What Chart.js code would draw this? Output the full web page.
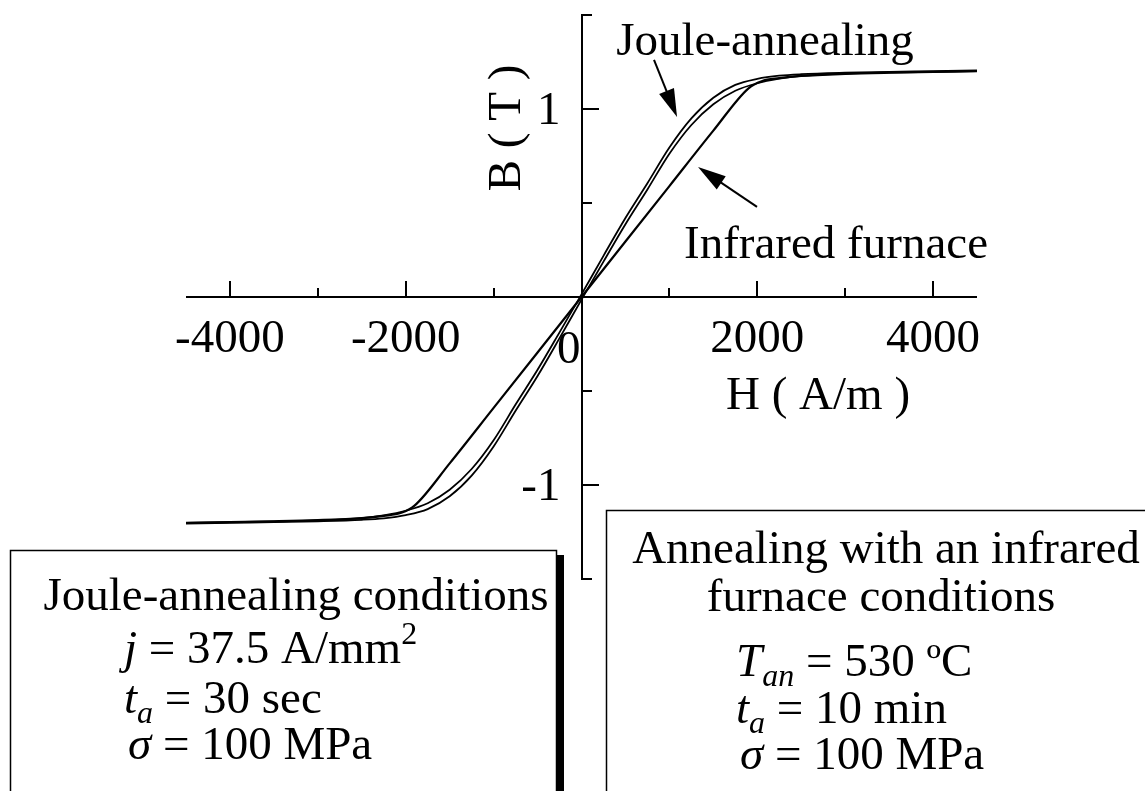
<!DOCTYPE html>
<html>
<head>
<meta charset="utf-8">
<script src="https://cdn.jsdelivr.net/npm/chart.js@4.4.1/dist/chart.umd.min.js"></script>
<style>
  html, body { margin: 0; padding: 0; background: #fff; }
  #wrap { width: 1145px; height: 791px; }
</style>
</head>
<body>
<div id="wrap"><canvas id="bh" width="1145" height="791"></canvas></div>
<script>
// H sweep (A/m) and flux density B (T) for the Joule-annealed sample, both loop branches
const hJoule = [-4500, -4000, -3500, -3000, -2500, -2250, -2000, -1750, -1500, -1250, -1000, -750, -500, -250, 0,
                250, 500, 750, 1000, 1250, 1500, 1750, 2000, 2250, 2500, 3000, 3500, 4000, 4500];
const bJouleDown = [-1.202, -1.198, -1.194, -1.188, -1.176, -1.161, -1.137, -1.097, -1.025, -0.915, -0.762, -0.572, -0.387, -0.188, 0.014,
                    0.219, 0.42, 0.605, 0.795, 0.95, 1.06, 1.128, 1.16, 1.177, 1.185, 1.193, 1.198, 1.201, 1.205];
const bJouleUp = [-1.205, -1.201, -1.198, -1.193, -1.185, -1.177, -1.16, -1.128, -1.06, -0.95, -0.795, -0.605, -0.42, -0.219, -0.014,
                  0.188, 0.387, 0.572, 0.762, 0.915, 1.025, 1.097, 1.137, 1.161, 1.176, 1.188, 1.194, 1.198, 1.202];

// infrared furnace annealed sample
const hInfrared = [-4500, -4000, -3500, -3000, -2500, -2250, -2050, -1900, -1500, -1000, -500, 0,
                   500, 1000, 1500, 1900, 2050, 2250, 2500, 3000, 3500, 4000, 4500];
const bInfrared = [-1.201, -1.197, -1.193, -1.187, -1.176, -1.164, -1.148, -1.11, -0.885, -0.59, -0.295, 0,
                   0.295, 0.59, 0.885, 1.11, 1.148, 1.164, 1.176, 1.187, 1.193, 1.197, 1.201];

const xMajorTicks = [-4000, -2000, 2000, 4000];
const xMinorTicks = [-3000, -1000, 1000, 3000];
const xTickLabels = ['-4000', '-2000', '2000', '4000'];
const yMajorTicks = [-1, 1];
const yMinorTicks = [-0.5, 0.5];
const yTickLabels = ['-1', '1'];

const FONT = "'Liberation Serif', 'Times New Roman', serif";

function pts(hs, bs) {
  return hs.map((h, i) => ({ x: h, y: bs[i] }));
}

// text made of runs: plain, italic, subscript, superscript
function drawRuns(ctx, x, y, parts, align) {
  const fontOf = p => (p.it ? 'italic ' : '') + (p.sub || p.sup ? 32 : 47) + 'px ' + FONT;
  let w = 0;
  parts.forEach(p => { ctx.font = fontOf(p); w += ctx.measureText(p.t).width; });
  let cx = align === 'center' ? x - w / 2 : x;
  parts.forEach(p => {
    ctx.font = fontOf(p);
    const dy = p.sub ? 10 : (p.sup ? -19 : 0);
    ctx.fillText(p.t, cx, y + dy);
    cx += ctx.measureText(p.t).width;
  });
}

function arrow(ctx, x1, y1, x2, y2) {
  const a = Math.atan2(y2 - y1, x2 - x1);
  const len = 28, half = 8;
  ctx.beginPath();
  ctx.moveTo(x1, y1);
  ctx.lineTo(x2 - Math.cos(a) * len * 0.8, y2 - Math.sin(a) * len * 0.8);
  ctx.lineWidth = 2;
  ctx.stroke();
  ctx.beginPath();
  ctx.moveTo(x2, y2);
  ctx.lineTo(x2 - Math.cos(a) * len - Math.sin(a) * half, y2 - Math.sin(a) * len + Math.cos(a) * half);
  ctx.lineTo(x2 - Math.cos(a) * len + Math.sin(a) * half, y2 - Math.sin(a) * len - Math.cos(a) * half);
  ctx.closePath();
  ctx.fill();
}

const crossAxes = {
  id: 'crossAxes',
  beforeDatasetsDraw(chart) {
    const ctx = chart.ctx, xs = chart.scales.x, ys = chart.scales.y;
    const x0 = Math.round(xs.getPixelForValue(0));
    const y0 = Math.round(ys.getPixelForValue(0));
    const top = Math.round(ys.top), bottom = Math.round(ys.bottom);
    ctx.save();
    ctx.strokeStyle = '#000';
    ctx.lineWidth = 2;
    ctx.beginPath();
    ctx.moveTo(xs.left, y0); ctx.lineTo(xs.right, y0);
    ctx.moveTo(x0 + 10, top); ctx.lineTo(x0, top); ctx.lineTo(x0, bottom); ctx.lineTo(x0 + 10, bottom);
    xMajorTicks.forEach(v => { const p = Math.round(xs.getPixelForValue(v)); ctx.moveTo(p, y0); ctx.lineTo(p, y0 - 16); });
    xMinorTicks.forEach(v => { const p = Math.round(xs.getPixelForValue(v)); ctx.moveTo(p, y0); ctx.lineTo(p, y0 - 9); });
    yMajorTicks.forEach(v => { const p = Math.round(ys.getPixelForValue(v)); ctx.moveTo(x0, p); ctx.lineTo(x0 + 17, p); });
    yMinorTicks.forEach(v => { const p = Math.round(ys.getPixelForValue(v)); ctx.moveTo(x0, p); ctx.lineTo(x0 + 10, p); });
    ctx.stroke();
    ctx.restore();
  },
  afterDraw(chart) {
    const ctx = chart.ctx, xs = chart.scales.x, ys = chart.scales.y;
    const x0 = xs.getPixelForValue(0), y0 = ys.getPixelForValue(0);
    ctx.save();
    ctx.fillStyle = '#000';
    ctx.strokeStyle = '#000';
    ctx.font = '47px ' + FONT;
    ctx.textBaseline = 'alphabetic';

    // tick labels
    ctx.textAlign = 'center';
    xMajorTicks.forEach((v, i) => ctx.fillText(xTickLabels[i], xs.getPixelForValue(v), y0 + 55));
    ctx.textAlign = 'right';
    ctx.fillText('0', x0 - 1, y0 + 66);
    yMajorTicks.forEach((v, i) => ctx.fillText(yTickLabels[i], x0 - 21, ys.getPixelForValue(v) + 15));

    // axis titles
    ctx.textAlign = 'center';
    ctx.fillText('H ( A/m )', 818, 409);
    ctx.save();
    ctx.translate(520, 128);
    ctx.rotate(-Math.PI / 2);
    ctx.fillText('B ( T )', 0, 0);
    ctx.restore();

    // curve labels
    ctx.fillText('Joule-annealing', xs.getPixelForValue(2088), ys.getPixelForValue(1.287));
    ctx.fillText('Infrared furnace', xs.getPixelForValue(2896), ys.getPixelForValue(0.207));
    arrow(ctx, xs.getPixelForValue(825), ys.getPixelForValue(1.261), xs.getPixelForValue(1087), ys.getPixelForValue(0.957));
    arrow(ctx, xs.getPixelForValue(1997), ys.getPixelForValue(0.479), xs.getPixelForValue(1326), ys.getPixelForValue(0.691));

    // condition boxes
    ctx.fillStyle = '#fff';
    ctx.fillRect(10, 550, 547, 260);
    ctx.fillRect(606, 510, 560, 300);
    ctx.fillStyle = '#000';
    ctx.lineWidth = 1.5;
    ctx.strokeRect(10.5, 550.5, 546, 260);
    ctx.fillRect(557, 555, 7, 260);
    ctx.strokeRect(606.5, 510.5, 560, 300);

    ctx.textAlign = 'left';
    drawRuns(ctx, 296, 610, [{ t: 'Joule-annealing conditions' }], 'center');
    drawRuns(ctx, 124, 663, [{ t: 'j', it: true }, { t: ' = 37.5 A/mm' }, { t: '2', sup: true }]);
    drawRuns(ctx, 124, 713, [{ t: 't', it: true }, { t: 'a', it: true, sub: true }, { t: ' = 30 sec' }]);
    drawRuns(ctx, 128, 759, [{ t: 'σ', it: true }, { t: ' = 100 MPa' }]);

    drawRuns(ctx, 886, 563, [{ t: 'Annealing with an infrared' }], 'center');
    drawRuns(ctx, 881, 611, [{ t: 'furnace conditions' }], 'center');
    drawRuns(ctx, 736, 676, [{ t: 'T', it: true }, { t: 'an', it: true, sub: true }, { t: ' = 530 ºC' }]);
    drawRuns(ctx, 736, 723, [{ t: 't', it: true }, { t: 'a', it: true, sub: true }, { t: ' = 10 min' }]);
    drawRuns(ctx, 740, 769, [{ t: 'σ', it: true }, { t: ' = 100 MPa' }]);
    ctx.restore();
  }
};

const lineStyle = {
  showLine: true,
  pointRadius: 0,
  borderColor: '#000',
  backgroundColor: '#000',
  cubicInterpolationMode: 'monotone',
  fill: false
};

new Chart(document.getElementById('bh'), {
  type: 'scatter',
  data: {
    datasets: [
      { ...lineStyle, label: 'Joule-annealing (down)', data: pts(hJoule, bJouleDown), borderWidth: 1.8 },
      { ...lineStyle, label: 'Joule-annealing (up)', data: pts(hJoule, bJouleUp), borderWidth: 1.8 },
      { ...lineStyle, label: 'Infrared furnace', data: pts(hInfrared, bInfrared), borderWidth: 2.2 }
    ]
  },
  options: {
    responsive: false,
    animation: false,
    layout: { padding: { left: 186, right: 168, top: 15, bottom: 212 } },
    scales: {
      x: { type: 'linear', min: -4500, max: 4500, display: false },
      y: { type: 'linear', min: -1.5, max: 1.5, display: false }
    },
    plugins: {
      legend: { display: false },
      tooltip: { enabled: false }
    }
  },
  plugins: [crossAxes]
});
</script>
</body>
</html>
